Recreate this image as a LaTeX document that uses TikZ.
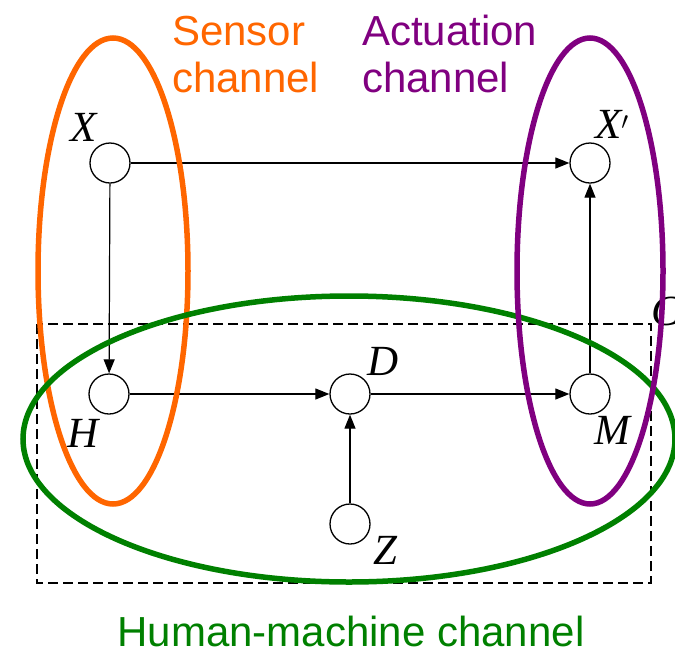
\documentclass[tikz,border=0pt]{standalone}
\usepackage{fontspec}
\setmainfont{Liberation Serif}
\newfontfamily\labelfont{Liberation Sans}
\usetikzlibrary{arrows.meta}
\definecolor{sensororange}{RGB}{255,102,0}
\definecolor{actpurple}{RGB}{128,0,128}
\definecolor{hmgreen}{RGB}{0,128,0}
\tikzset{
  var/.style={circle, draw, line width=1.3pt, fill=white, minimum size=40pt, inner sep=0pt},
  varlabel/.style={font=\fontsize{43}{43}\selectfont\itshape, inner sep=0pt},
  link/.style={line width=1.2pt, -{Triangle[length=14pt, width=11pt]}},
  channel/.style={line width=5.5pt},
  caption/.style={font=\labelfont\fontsize{42}{42}\selectfont, inner sep=0pt, anchor=base west}
}
\begin{document}
\begin{tikzpicture}[x=1pt, y=-1pt]
\useasboundingbox (0,0) rectangle (675,654);

% subsystem boundary
\draw[line width=2.6pt, dash pattern=on 10pt off 5pt] (37,324) rectangle (651,583);
\node[varlabel, anchor=west] (clabel) at (651,311) {C};

% variables
\node[var] (X)  at (110,163) {};
\node[var] (Xp) at (590,163) {};
\node[var] (H)  at (109,394) {};
\node[var] (D)  at (350,394) {};
\node[var] (M)  at (590,394) {};
\node[var] (Z)  at (350,524) {};

\node[varlabel] (Xl)  at (84,127)  {X};
\node[varlabel] (Xpl) at (612,124) {X$'$};
\node[varlabel] (Hl)  at (83,433)  {H};
\node[varlabel] (Dl)  at (383,361) {D};
\node[varlabel] (Ml)  at (612,430) {M};
\node[varlabel] (Zl)  at (385,550) {Z};

% causal links
\draw[link] (X) -- (Xp);
\draw[link] (X) -- (H);
\draw[link] (H) -- (D);
\draw[link] (D) -- (M);
\draw[link] (M) -- (Xp);
\draw[link] (Z) -- (D);

% channels
\draw[channel, sensororange] (113,271) ellipse [x radius=75pt, y radius=233pt];
\draw[channel, hmgreen] (349,439) ellipse [x radius=326pt, y radius=143pt];
\draw[channel, actpurple] (590,271) ellipse [x radius=73pt, y radius=233pt];

% captions
\node[caption, text=sensororange] (s1) at (172,45) {Sensor};
\node[caption, text=sensororange] (s2) at (172,92) {channel};
\node[caption, text=actpurple] (a1) at (362,45) {Actuation};
\node[caption, text=actpurple] (a2) at (362,92) {channel};
\node[caption, text=hmgreen, anchor=base] (h1) at (351,646) {Human-machine channel};
\end{tikzpicture}
\end{document}
